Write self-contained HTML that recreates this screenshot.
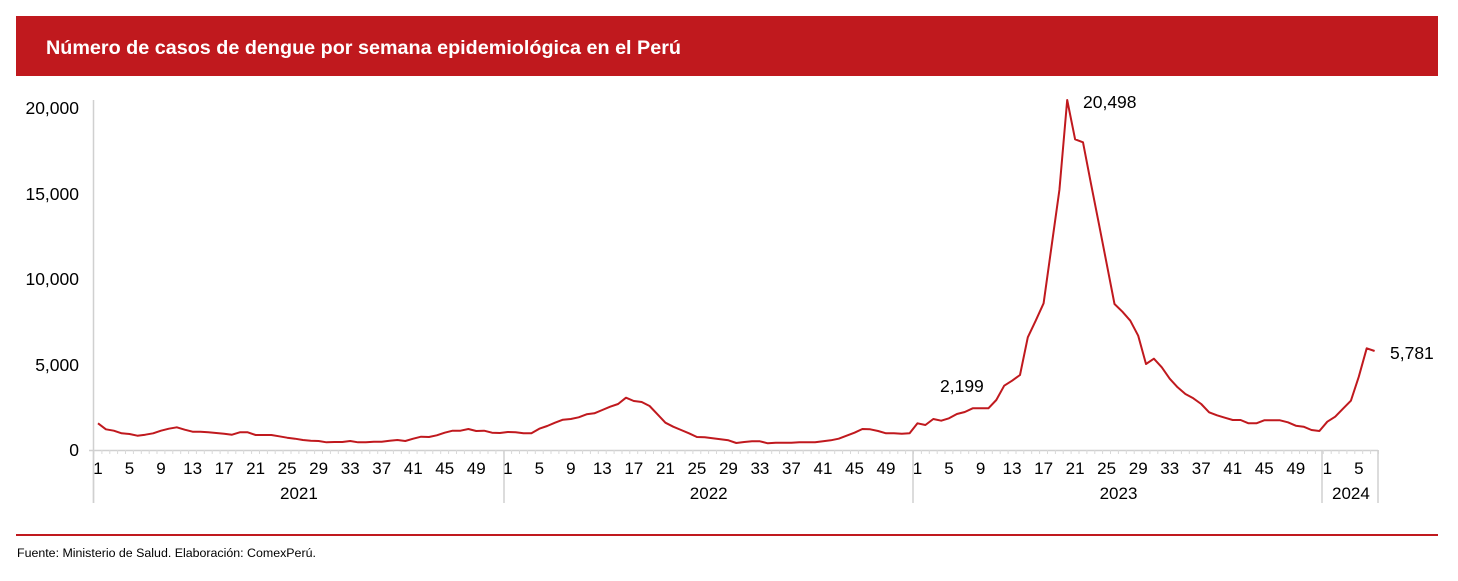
<!DOCTYPE html>
<html><head><meta charset="utf-8"><style>
body{margin:0;background:#fff;width:1458px;height:576px;overflow:hidden;font-family:"Liberation Sans",Arial,sans-serif}
</style></head><body>
<svg id="s" width="1458" height="576" xmlns="http://www.w3.org/2000/svg" font-family="Liberation Sans, Arial, sans-serif">
<rect x="16" y="16" width="1422" height="60" fill="#c0191e"/>
<text x="46" y="54" fill="#fff" font-size="19.5" font-weight="bold" textLength="635" lengthAdjust="spacingAndGlyphs">Número de casos de dengue por semana epidemiológica en el Perú</text>
<line x1="16" y1="535" x2="1438" y2="535" stroke="#c0191e" stroke-width="2"/>
<text x="17" y="557" font-size="12.4" fill="#000">Fuente: Ministerio de Salud. Elaboración: ComexPerú.</text>
<line x1="93.5" y1="100" x2="93.5" y2="503" stroke="#d0d0d0" stroke-width="1.5"/>
<line x1="89" y1="450.5" x2="1378" y2="450.5" stroke="#d0d0d0" stroke-width="1.5"/>
<g font-size="17.5" fill="#000" text-anchor="end">
<text x="79" y="456">0</text>
<text x="79" y="371">5,000</text>
<text x="79" y="285">10,000</text>
<text x="79" y="200">15,000</text>
<text x="79" y="114">20,000</text>
</g>
<g id="g"></g>
<g font-size="17.5" fill="#000">
<text x="1083" y="108">20,498</text>
<text x="940" y="392">2,199</text>
<text x="1390" y="359">5,781</text>
</g>
</svg>
<script>
var z1=[130,148,152,160,162,167,164,160,152,146,142,149,155,155,157,159,161,164,157,157,165,165,165,169,173,176,180,182,183,187,186,186,183,187,187,185,185,182,180,183,176,170,171,166,158,152,152,147,153,152,158,159,
156,157,160,160,146,138,128,119,117,112,103,100,90,80,72,53,63,66,78,103,128,140,150,160,171,172,175,178,181,189,186,184,184,190,188,188,188,187,187,187,184,181,176,167,158,147,148,153,160,160,161,160];
var z3=[1000,1005,987,992,985,972,966,955,955,955,930,887,872,855,742,692,640,470,300,30,148,157,280,400,520,642,665,692,737,822,806,832,866,892,912,925,942,967,976,983,990,990,1000,1000,991,991,991,997,1007,1010,1020,1023,995,980,956,932,860,775,783];
var ys=[];z1.forEach(function(z){ys.push(380+z/3)});z3.forEach(function(z){ys.push(90+z/3)});
var st=7.88,pts=[],h='';
ys.forEach(function(y,i){pts.push((98+i*st).toFixed(1)+','+y.toFixed(1))});
for(var i=0;i<=163;i++){var x=(94+i*st).toFixed(1);h+='<line x1="'+x+'" y1="450" x2="'+x+'" y2="454" stroke="#d9d9d9"/>';}
[93.5,504,913,1322,1378].forEach(function(x){h+='<line x1="'+x+'" y1="450" x2="'+x+'" y2="503" stroke="#d0d0d0" stroke-width="1.5"/>';});
var years=[[2021,52],[2022,52],[2023,52],[2024,7]],off=0;
years.forEach(function(yr){for(var w=1;w<=yr[1];w+=4){var x=98+(off+w-1)*st;h+='<text x="'+x.toFixed(1)+'" y="474" font-size="17" text-anchor="middle">'+w+'</text>';}
var cx=98+(off+(yr[1]-1)/2)*st;h+='<text x="'+cx.toFixed(1)+'" y="499" font-size="17" text-anchor="middle">'+yr[0]+'</text>';off+=yr[1];});
h+='<polyline fill="none" stroke="#c0191e" stroke-width="2" stroke-linejoin="round" points="'+pts.join(' ')+'"/>';
document.getElementById('g').innerHTML=h;
</script>
</body></html>
